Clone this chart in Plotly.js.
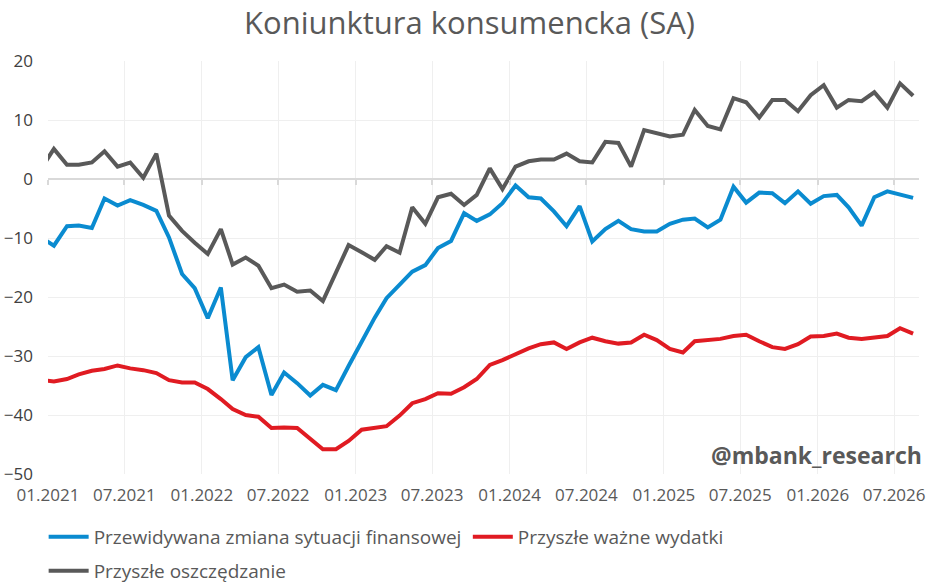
<!DOCTYPE html>
<html>
<head>
<meta charset="utf-8">
<script src="https://cdn.plot.ly/plotly-3.0.1.min.js"></script>
<style>
  html, body { margin: 0; padding: 0; background: #fff; }
  #chart { width: 939px; height: 583px; }
</style>
</head>
<body>
<div id="chart"></div>
<script>
// monthly readings, mid-month; first one (12.2020) sits just left of the axis
const months = [];
for (let k = -1; k < 68; k++) {
  months.push(new Date(Date.UTC(2021, k, 15)).toISOString().slice(0, 10));
}

const finanse = [-9.9,
  -11.3, -8.0, -7.9, -8.3, -3.3, -4.5, -3.6, -4.4, -5.4, -9.9,
  -16.1, -18.5, -23.6, -18.4, -34.1, -30.2, -28.5, -36.6, -32.8, -34.6,
  -36.7, -34.9, -35.8, -31.7, -27.6, -23.5, -20.2, -17.8, -15.7, -14.6,
  -11.7, -10.5, -5.8, -7.1, -6.0, -4.1, -1.1, -3.1, -3.3, -5.5,
  -8.0, -4.6, -10.6, -8.5, -7.1, -8.5, -8.9, -8.9, -7.6, -6.9,
  -6.7, -8.2, -6.9, -1.3, -4.0, -2.3, -2.4, -4.1, -2.1, -4.2,
  -2.9, -2.7, -4.8, -7.9, -3.1, -2.1, -2.7, -3.2];

const wydatki = [-34.1,
  -34.3, -33.9, -33.1, -32.5, -32.2, -31.6, -32.1, -32.4, -32.9, -34.1,
  -34.5, -34.5, -35.6, -37.3, -39.0, -40.0, -40.3, -42.2, -42.1, -42.2,
  -44.1, -45.8, -45.8, -44.4, -42.5, -42.1, -41.9, -40.1, -38.0, -37.3,
  -36.3, -36.4, -35.3, -33.9, -31.5, -30.7, -29.7, -28.7, -28.0, -27.7,
  -28.8, -27.7, -26.9, -27.5, -27.9, -27.7, -26.4, -27.3, -28.8, -29.4,
  -27.5, -27.3, -27.1, -26.6, -26.4, -27.5, -28.5, -28.8, -28.0, -26.7,
  -26.6, -26.2, -26.9, -27.1, -26.8, -26.6, -25.3, -26.2];

const oszczedzanie = [1.7,
  5.1, 2.4, 2.4, 2.8, 4.7, 2.1, 2.8, 0.2, 4.3, -6.2,
  -8.8, -10.8, -12.7, -8.5, -14.5, -13.3, -14.7, -18.5, -17.9, -19.1,
  -18.9, -20.7, -15.8, -11.2, -12.4, -13.7, -11.4, -12.5, -4.8, -7.6,
  -3.1, -2.5, -4.4, -2.7, 1.8, -1.7, 2.1, 3.0, 3.3, 3.3,
  4.3, 3.0, 2.8, 6.3, 6.1, 2.1, 8.3, 7.7, 7.2, 7.5,
  11.7, 9.0, 8.4, 13.7, 13.0, 10.4, 13.4, 13.4, 11.5, 14.2,
  15.9, 12.1, 13.4, 13.2, 14.7, 12.1, 16.2, 14.1];

const xRange = ['2021-01-01', '2026-08-29'];
const font = 'Open Sans, sans-serif';
const textColor = '#595959';

const traces = [
  {
    x: months, y: finanse,
    type: 'scatter', mode: 'lines',
    name: 'Przewidywana zmiana sytuacji finansowej',
    line: { color: '#0a8bd0', width: 4 },
    legend: 'legend'
  },
  {
    x: months, y: wydatki,
    type: 'scatter', mode: 'lines',
    name: 'Przyszłe ważne wydatki',
    line: { color: '#e01b22', width: 4 },
    legend: 'legend2'
  },
  {
    x: months, y: oszczedzanie,
    type: 'scatter', mode: 'lines',
    name: 'Przyszłe oszczędzanie',
    line: { color: '#595959', width: 4 },
    xaxis: 'x2',
    legend: 'legend3'
  }
];

const legendBase = {
  orientation: 'h',
  xanchor: 'left',
  yanchor: 'middle',
  yref: 'container',
  itemwidth: 40,
  bgcolor: 'rgba(0,0,0,0)',
  font: { family: font, size: 19, color: textColor }
};

const layout = {
  width: 939,
  height: 583,
  paper_bgcolor: '#fff',
  plot_bgcolor: '#fff',
  margin: { l: 48, r: 20, t: 61, b: 109, autoexpand: false },
  font: { family: font, color: textColor },
  title: {
    text: 'Koniunktura konsumencka (SA)',
    font: { family: font, size: 31, color: textColor },
    xref: 'container', x: 0.5, xanchor: 'center',
    yref: 'container', y: 0.961, yanchor: 'middle'
  },
  xaxis: {
    type: 'date',
    range: xRange,
    tick0: '2021-01-01',
    dtick: 'M6',
    tickformat: '%m.%Y',
    showgrid: true,
    gridcolor: '#efefef',
    gridwidth: 1,
    showline: false,
    ticks: '',
    zeroline: false,
    ticklabelstandoff: 9,
    tickfont: { family: font, size: 17, color: textColor }
  },
  xaxis2: {
    type: 'date',
    overlaying: 'x',
    anchor: 'free',
    position: 50 / 70,
    range: xRange,
    tick0: '2021-01-01',
    dtick: 'M6',
    showgrid: false,
    showline: false,
    showticklabels: false,
    ticks: 'outside',
    ticklen: 5,
    tickwidth: 2,
    tickcolor: '#d9d9d9',
    zeroline: false
  },
  yaxis: {
    range: [-50, 20],
    dtick: 10,
    showgrid: true,
    gridcolor: '#efefef',
    gridwidth: 1,
    zeroline: true,
    zerolinecolor: '#d9d9d9',
    zerolinewidth: 2,
    showline: false,
    ticks: '',
    ticklabelstandoff: 14,
    tickfont: { family: font, size: 17, color: '#404040' }
  },
  showlegend: true,
  legend: Object.assign({}, legendBase, { x: -0.005, y: 1 - 537 / 583 }),
  legend2: Object.assign({}, legendBase, { x: 0.482, y: 1 - 537 / 583 }),
  legend3: Object.assign({}, legendBase, { x: -0.005, y: 1 - 571 / 583 }),
  annotations: [
    {
      text: '<b>@mbank_research</b>',
      xref: 'paper', yref: 'paper',
      x: 1, y: 0.046,
      xanchor: 'right', yanchor: 'middle',
      xshift: 5,
      showarrow: false,
      font: { family: font, size: 23, color: textColor }
    }
  ]
};

Plotly.newPlot('chart', traces, layout, { displayModeBar: false, staticPlot: true });
</script>
</body>
</html>
